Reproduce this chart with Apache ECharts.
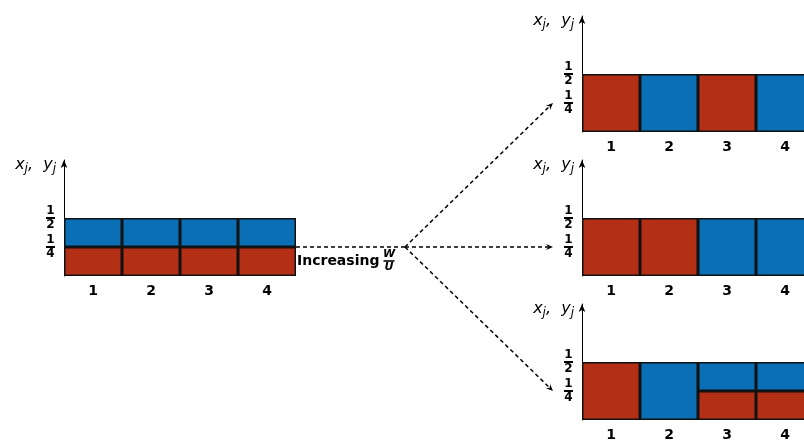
<!DOCTYPE html>
<html><head><meta charset="utf-8">
<script src="https://cdn.jsdelivr.net/npm/echarts@6/dist/echarts.min.js"></script>
<style>html,body{margin:0;padding:0;background:#fff}#c{width:804px;height:445px}</style>
</head><body><div id="c"></div>
<script>
// ---- data ----
const categories = ['1', '2', '3', '4'];
const yTicks = [0.25, 0.5];
const yTickNum = ['1', '1'];
const yTickDen = ['4', '2'];
const leftRed  = [0.25, 0.25, 0.25, 0.25];
const leftBlue = [0.25, 0.25, 0.25, 0.25];
const topRed   = [0.5, null, 0.5, null];
const topBlue  = [null, 0.5, null, 0.5];
const midRed   = [0.5, 0.5, null, null];
const midBlue  = [null, null, 0.5, 0.5];
const botRed   = [0.5, null, 0.25, 0.25];
const botBlue  = [null, 0.5, 0.25, 0.25];
const panels = [[leftRed, leftBlue], [topRed, topBlue], [midRed, midBlue], [botRed, botBlue]];
const arrowLevel = 0.25;

// ---- layout / style ----
const RED = '#B33016', BLUE = '#0A6FB4';
const grids = [
  {left: 64, top: 160, width: 232, height: 116},
  {left: 582, top: 16, width: 232, height: 116},
  {left: 582, top: 160, width: 232, height: 116},
  {left: 582, top: 304, width: 232, height: 116}
];
const fracRich = {
  n: {fontSize: 12, fontWeight: 'bold', lineHeight: 11, align: 'center', color: '#000', fontFamily: 'DejaVu Sans'},
  b: {fontSize: 1, width: 9, height: 2, lineHeight: 3, backgroundColor: '#000', align: 'center'},
  d: {fontSize: 12, fontWeight: 'bold', lineHeight: 11, align: 'center', color: '#000', fontFamily: 'DejaVu Sans'}
};
const nameRich = {
  i: {fontSize: 16, fontStyle: 'italic', fontFamily: 'DejaVu Sans', color: '#000', lineHeight: 18, verticalAlign: 'top'},
  s: {fontSize: 12, fontStyle: 'italic', fontFamily: 'DejaVu Sans', color: '#000', lineHeight: 12, verticalAlign: 'bottom'}
};

const option = {
  animation: false,
  backgroundColor: '#fff',
  grid: grids.map(g => Object.assign({containLabel: false, outerBoundsMode: 'none'}, g)),
  xAxis: grids.map((g, i) => ({
    type: 'category', gridIndex: i, data: categories,
    axisLine: {show: false}, axisTick: {show: false}, splitLine: {show: false},
    axisLabel: {margin: 8, fontSize: 14, fontWeight: 'bold', color: '#000', fontFamily: 'DejaVu Sans'}
  })),
  yAxis: grids.map((g, i) => ({
    type: 'value', gridIndex: i, min: 0, max: 1, interval: 0.25,
    name: '{i|x}{s|j}{i|,  y}{s|j}',
    nameLocation: 'end', nameGap: -6,
    nameTextStyle: {align: 'right', verticalAlign: 'middle', padding: [0, 8, 0, 0], rich: nameRich},
    axisLine: {show: true, lineStyle: {color: '#000', width: 1}, symbol: ['none', 'arrow'], symbolSize: [5, 8]},
    axisTick: {show: false}, splitLine: {show: false},
    axisLabel: {
      margin: 9, rich: fracRich,
      formatter: v => {
        const k = yTicks.indexOf(v);
        return k < 0 ? '' : '{n|' + yTickNum[k] + '}\n{b| }\n{d|' + yTickDen[k] + '}';
      }
    }
  })),
  series: panels.flatMap((p, i) => [
    {type: 'bar', xAxisIndex: i, yAxisIndex: i, stack: 's' + i, data: p[0], barCategoryGap: '0%',
     itemStyle: {color: RED, borderColor: '#111', borderWidth: 1.5}},
    {type: 'bar', xAxisIndex: i, yAxisIndex: i, stack: 's' + i, data: p[1], barCategoryGap: '0%',
     itemStyle: {color: BLUE, borderColor: '#111', borderWidth: 1.5}}
  ])
};

const chart = echarts.init(document.getElementById('c'), null, {renderer: 'canvas'});
chart.setOption(option);

// ---- annotations: dashed arrows from left panel to right panels ----
const y0 = chart.convertToPixel({yAxisIndex: 0}, arrowLevel);
const startX = grids[0].left + grids[0].width;
const hubX = startX + 109;
const tipX = grids[1].left - 29;
const dash = {stroke: '#000', lineWidth: 1.5, lineDash: [4, 3]};
const elems = [];
elems.push({type: 'line', shape: {x1: startX, y1: y0, x2: hubX, y2: y0}, style: dash});
function arrowHead(x, y, ang) {
  const L = 7, W = 3;
  const c = Math.cos(ang), s = Math.sin(ang);
  const pt = (dx, dy) => [x + dx * c - dy * s, y + dx * s + dy * c];
  return {type: 'polygon', shape: {points: [pt(0, 0), pt(-L, -W), pt(-L * 0.65, 0), pt(-L, W)]}, style: {fill: '#000'}};
}
[1, 2, 3].forEach(i => {
  const ty = chart.convertToPixel({yAxisIndex: i}, arrowLevel);
  const ang = Math.atan2(ty - y0, tipX - hubX);
  const ex = tipX - 5 * Math.cos(ang), ey = ty - 5 * Math.sin(ang);
  elems.push({type: 'line', shape: {x1: hubX, y1: y0, x2: ex, y2: ey}, style: dash});
  elems.push(arrowHead(tipX, ty, ang));
});
elems.push({type: 'text', left: startX + 1, top: y0 + 7,
  style: {text: 'Increasing', font: 'bold 14px "DejaVu Sans"', fill: '#000'}});
elems.push({type: 'text', x: hubX - 16, y: y0 + 14,
  style: {text: '{n|W}\n{b| }\n{d|U}', align: 'center', verticalAlign: 'middle',
    rich: {
      n: {fontSize: 11, fontWeight: 'bold', fontStyle: 'italic', lineHeight: 10, align: 'center', fontFamily: 'DejaVu Sans', fill: '#000'},
      b: {fontSize: 1, width: 11, height: 1.6, lineHeight: 3, backgroundColor: '#000', align: 'center'},
      d: {fontSize: 11, fontWeight: 'bold', fontStyle: 'italic', lineHeight: 10, align: 'center', fontFamily: 'DejaVu Sans', fill: '#000'}
    }}});
chart.setOption({graphic: elems});
</script></body></html>
